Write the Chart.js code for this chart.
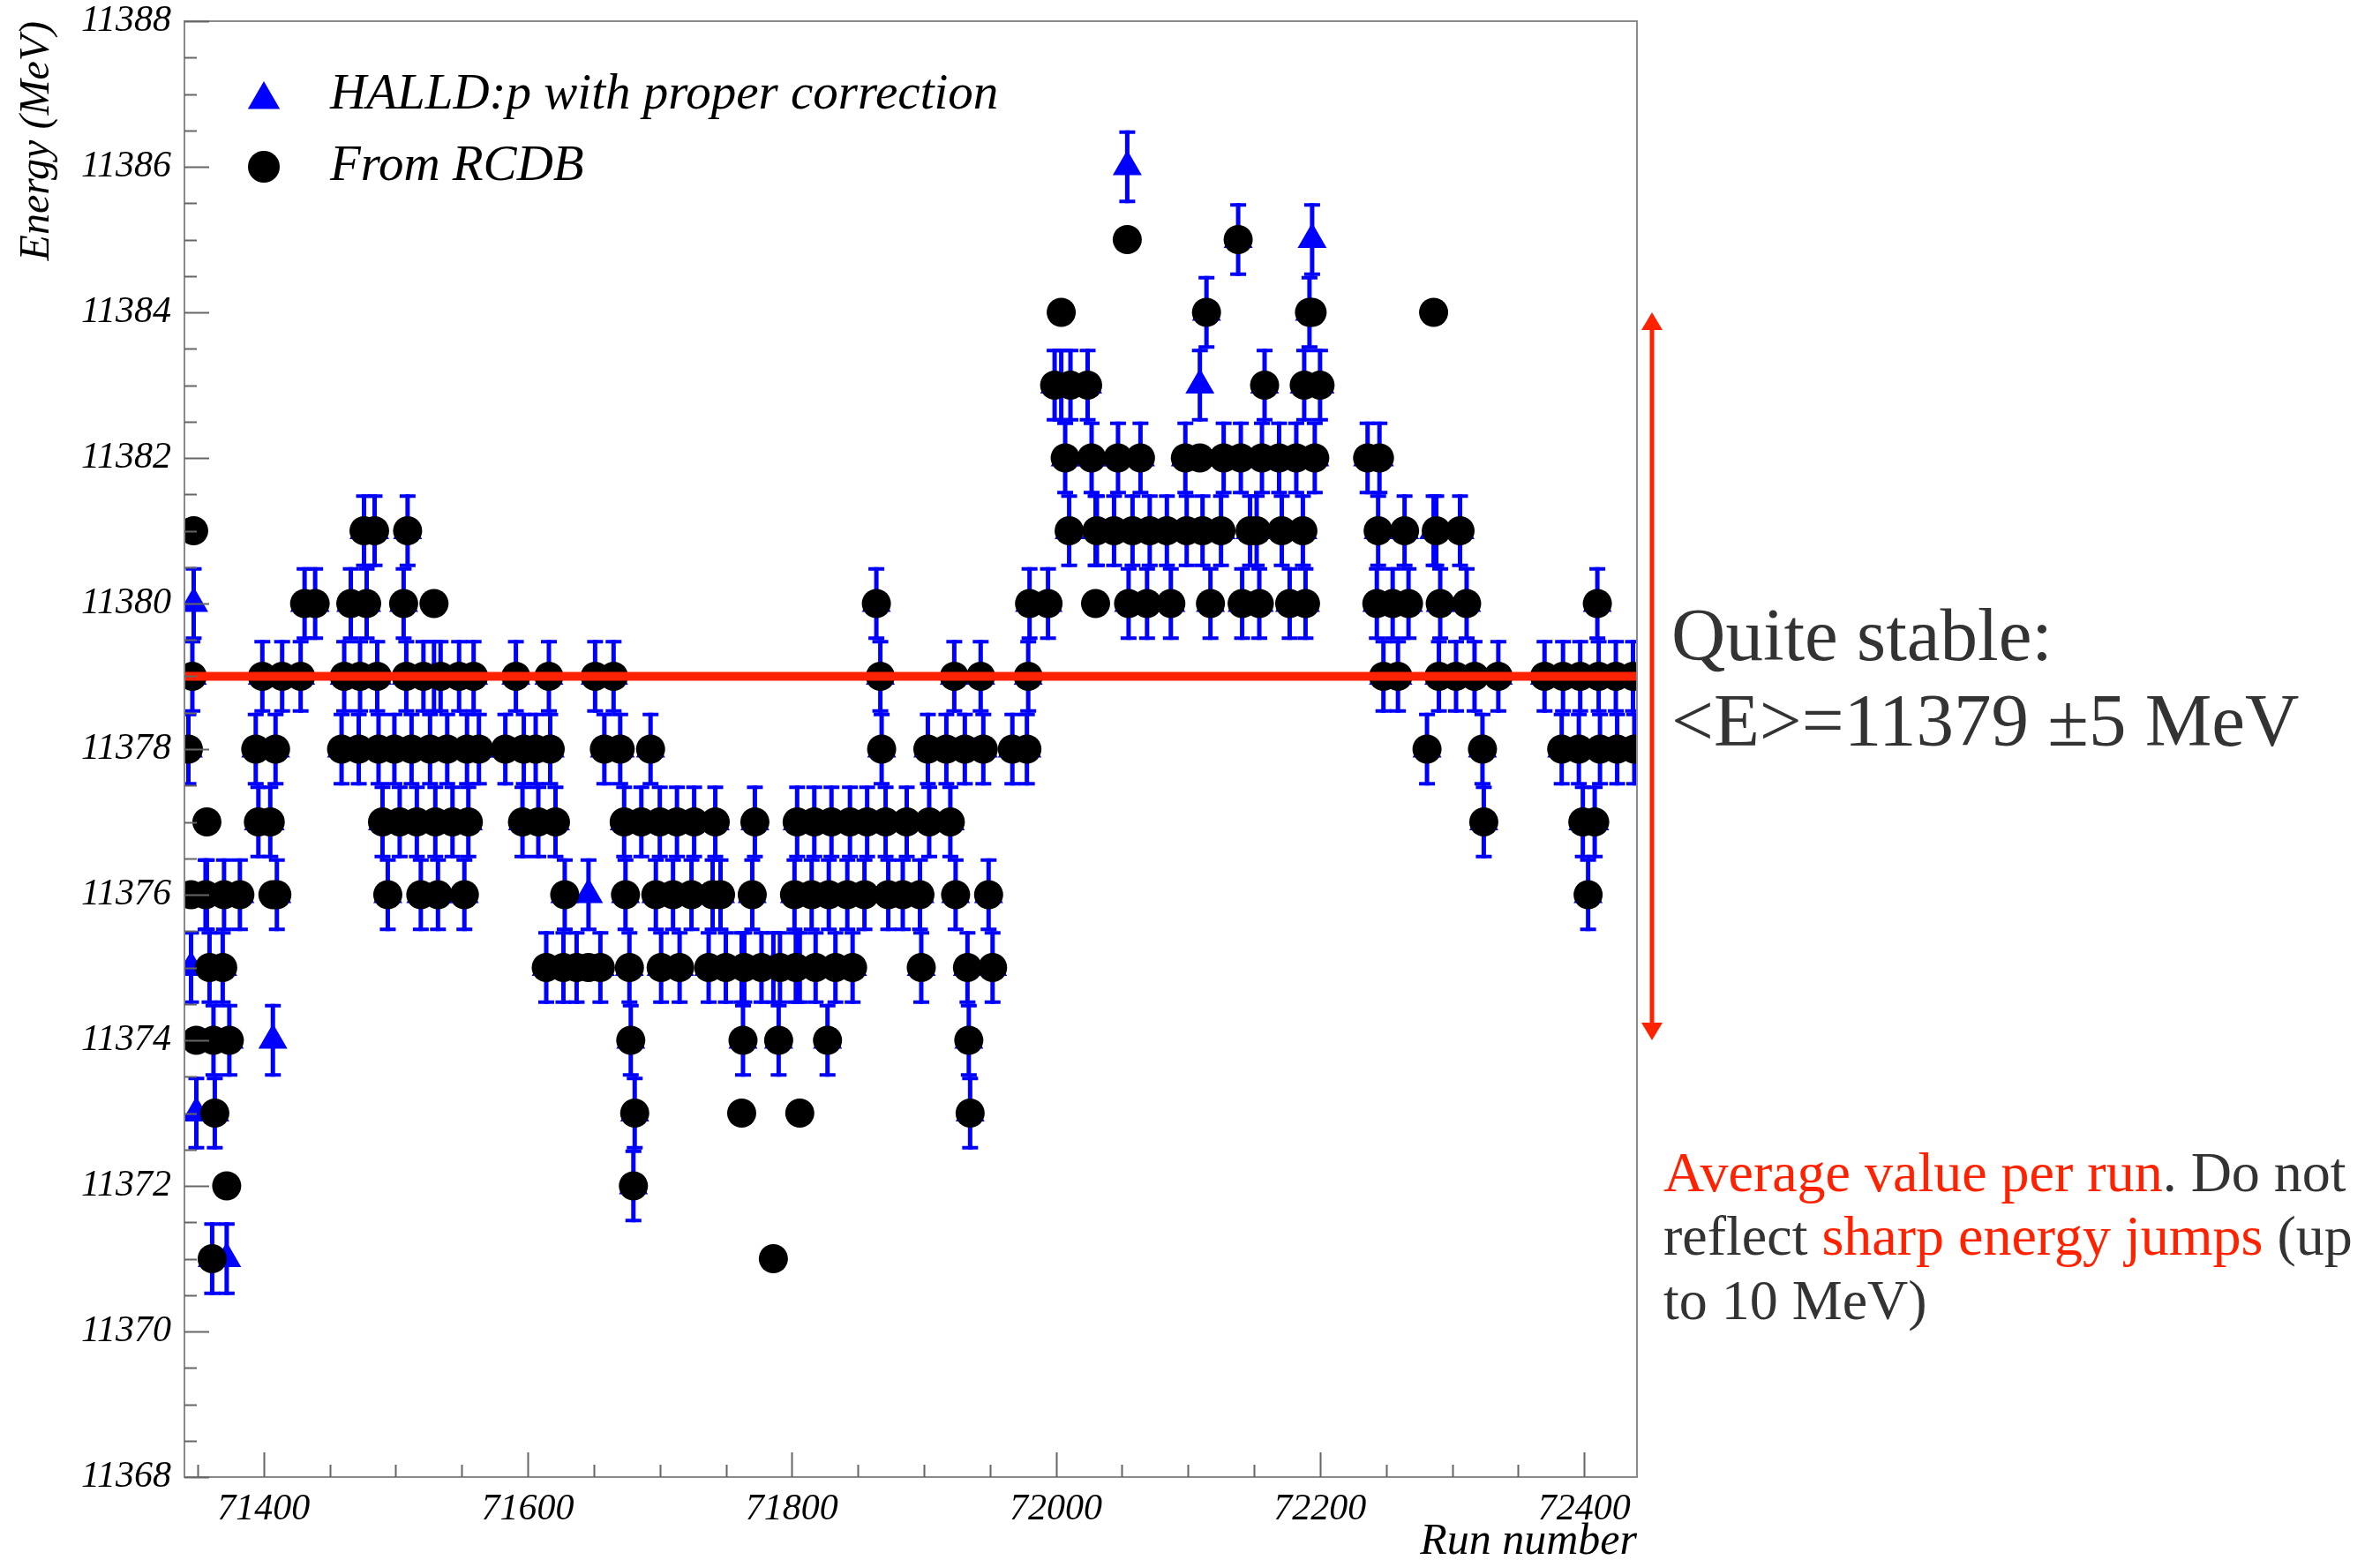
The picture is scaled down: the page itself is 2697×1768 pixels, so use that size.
<!DOCTYPE html>
<html>
<head>
<meta charset="utf-8">
<title>Beam energy per run</title>
<script src="https://cdn.jsdelivr.net/npm/chart.js@4.4.1/dist/chart.umd.min.js"></script>
<style>
html, body { margin: 0; padding: 0; background: #fff; }
#wrap { width: 2697px; height: 1768px; position: relative; }
</style>
</head>
<body>
<div id="wrap"><canvas id="mycanvas"></canvas></div>
<script>
// run number, energy from RCDB, energy from HALLD:p (MeV)
var runs = [
  71343, 71345, 71346, 71347, 71349, 71356, 71357, 71359, 71361, 71362, 71363, 71369, 71370, 71372, 71374, 71382,
  71394, 71396, 71399, 71405, 71407, 71409, 71410, 71414, 71428, 71431, 71439, 71459, 71461, 71466, 71472, 71473,
  71476, 71478, 71484, 71486, 71487, 71490, 71494, 71499, 71503, 71506, 71508, 71509, 71512, 71516, 71519, 71521,
  71526, 71529, 71530, 71532, 71534, 71539, 71543, 71548, 71552, 71554, 71555, 71559, 71563, 71583, 71591, 71596,
  71597, 71606, 71608, 71614, 71616, 71617, 71621, 71627, 71628, 71637, 71646, 71651, 71655, 71658, 71665, 71670,
  71673, 71674, 71677, 71678, 71680, 71681, 71686, 71693, 71697, 71700, 71701, 71710, 71713, 71715, 71724, 71726,
  71737, 71740, 71742, 71746, 71750, 71762, 71763, 71764, 71770, 71772, 71777, 71786, 71790, 71791, 71802, 71803,
  71804, 71806, 71815, 71817, 71818, 71827, 71828, 71830, 71833, 71842, 71844, 71846, 71855, 71857, 71864, 71867,
  71868, 71871, 71873, 71884, 71887, 71897, 71898, 71903, 71904, 71917, 71920, 71923, 71924, 71931, 71933, 71934,
  71935, 71943, 71945, 71949, 71952, 71967, 71978, 71979, 71980, 71994, 71999, 72004, 72007, 72010, 72011, 72024,
  72027, 72030, 72031, 72044, 72047, 72054, 72055, 72058, 72064, 72069, 72071, 72084, 72087, 72098, 72099, 72109,
  72111, 72114, 72117, 72125, 72127, 72138, 72140, 72141, 72147, 72152, 72154, 72156, 72158, 72169, 72171, 72177,
  72182, 72187, 72188, 72189, 72192, 72194, 72196, 72200, 72236, 72243, 72244, 72245, 72248, 72255, 72259, 72264,
  72267, 72281, 72286, 72288, 72290, 72291, 72303, 72306, 72311, 72317, 72323, 72324, 72335, 72370, 72383, 72384,
  72396, 72397, 72399, 72403, 72408, 72410, 72411, 72412, 72424, 72425, 72437, 72438
];
var rcdbEnergy = [
  11378, 11376, 11379, 11381, 11374, 11376, 11377, 11375, 11371, 11374, 11373, 11375, 11376, 11372, 11374, 11376,
  11378, 11377, 11379, 11377, 11376, 11378, 11376, 11379, 11379, 11380, 11380, 11378, 11379, 11380, 11378, 11379,
  11381, 11380, 11381, 11379, 11378, 11377, 11376, 11378, 11377, 11380, 11379, 11381, 11378, 11377, 11376, 11379,
  11378, 11380, 11377, 11376, 11379, 11378, 11377, 11379, 11376, 11378, 11377, 11379, 11378, 11378, 11379, 11377,
  11378, 11378, 11377, 11375, 11379, 11378, 11377, 11375, 11376, 11375, 11375, 11379, 11375, 11378, 11379, 11378,
  11377, 11376, 11375, 11374, 11372, 11373, 11377, 11378, 11376, 11377, 11375, 11376, 11377, 11375, 11376, 11377,
  11375, 11376, 11377, 11376, 11375, 11373, 11374, 11375, 11376, 11377, 11375, 11371, 11374, 11375, 11376, 11375,
  11377, 11373, 11376, 11377, 11375, 11374, 11376, 11377, 11375, 11376, 11377, 11375, 11376, 11377, 11380, 11379,
  11378, 11377, 11376, 11376, 11377, 11376, 11375, 11378, 11377, 11378, 11377, 11379, 11376, 11378, 11375, 11374,
  11373, 11379, 11378, 11376, 11375, 11378, 11378, 11379, 11380, 11380, 11383, 11384, 11382, 11381, 11383, 11383,
  11382, 11380, 11381, 11381, 11382, 11385, 11380, 11381, 11382, 11380, 11381, 11381, 11380, 11382, 11381, 11382,
  11381, 11384, 11380, 11381, 11382, 11385, 11382, 11380, 11381, 11381, 11380, 11382, 11383, 11382, 11381, 11380,
  11382, 11381, 11383, 11380, 11384, 11384, 11382, 11383, 11382, 11380, 11381, 11382, 11379, 11380, 11379, 11381,
  11380, 11378, 11384, 11381, 11379, 11380, 11379, 11381, 11380, 11379, 11378, 11377, 11379, 11379, 11378, 11379,
  11378, 11379, 11377, 11376, 11377, 11380, 11379, 11378, 11379, 11378, 11379, 11378
];
var halldEnergy = [
  11378, 11375, 11379, 11380, 11373, 11376, 11376, 11375, 11371, 11374, 11373, 11375, 11376, 11371, 11374, 11376,
  11378, 11377, 11379, 11377, 11374, 11378, 11376, 11379, 11379, 11380, 11380, 11378, 11379, 11380, 11378, 11379,
  11381, 11380, 11381, 11379, 11378, 11377, 11376, 11378, 11377, 11380, 11379, 11381, 11378, 11377, 11376, 11379,
  11378, 11379, 11377, 11376, 11379, 11378, 11377, 11379, 11376, 11378, 11377, 11379, 11378, 11378, 11379, 11377,
  11378, 11378, 11377, 11375, 11379, 11378, 11377, 11375, 11376, 11375, 11376, 11379, 11375, 11378, 11379, 11378,
  11377, 11376, 11375, 11374, 11372, 11373, 11377, 11378, 11376, 11377, 11375, 11376, 11377, 11375, 11376, 11377,
  11375, 11376, 11377, 11376, 11375, 11375, 11374, 11375, 11376, 11377, 11375, 11375, 11374, 11375, 11376, 11375,
  11377, 11375, 11376, 11377, 11375, 11374, 11376, 11377, 11375, 11376, 11377, 11375, 11376, 11377, 11380, 11379,
  11378, 11377, 11376, 11376, 11377, 11376, 11375, 11378, 11377, 11378, 11377, 11379, 11376, 11378, 11375, 11374,
  11373, 11379, 11378, 11376, 11375, 11378, 11378, 11379, 11380, 11380, 11383, 11383, 11382, 11381, 11383, 11383,
  11382, 11381, 11381, 11381, 11382, 11386, 11380, 11381, 11382, 11380, 11381, 11381, 11380, 11382, 11381, 11383,
  11381, 11384, 11380, 11381, 11382, 11385, 11382, 11380, 11381, 11381, 11380, 11382, 11383, 11382, 11381, 11380,
  11382, 11381, 11383, 11380, 11384, 11385, 11382, 11383, 11382, 11380, 11381, 11382, 11379, 11380, 11379, 11381,
  11380, 11378, 11381, 11381, 11379, 11380, 11379, 11381, 11380, 11379, 11378, 11377, 11379, 11379, 11378, 11379,
  11378, 11379, 11377, 11376, 11377, 11380, 11379, 11378, 11379, 11378, 11379, 11378
];
var halldError = 0.5;
var meanEnergy = 11379;
var spread = 5;
var xTicks = [71400, 71600, 71800, 72000, 72200, 72400];
var yTicks = [11368, 11370, 11372, 11374, 11376, 11378, 11380, 11382, 11384, 11386, 11388];

var RED = '#ff2200';
var DARK = '#333333';
var SERIF = "'Liberation Serif', 'Times New Roman', serif";

function toPoints(xs, ys) {
    var out = [];
    for (var i = 0; i < xs.length; i++) out.push({x: xs[i], y: ys[i]});
    return out;
}

function drawSegments(ctx, x, y, segs) {
    segs.forEach(function(s){
        ctx.fillStyle = s[1];
        ctx.fillText(s[0], x, y);
        x += ctx.measureText(s[0]).width;
    });
}

var extras = {
    id: 'extras',
    beforeDatasetsDraw: function(chart){
        // error bars of the HALLD:p points
        var ctx = chart.ctx, xs = chart.scales.x, ys = chart.scales.y, a = chart.chartArea;
        ctx.save();
        ctx.beginPath();
        ctx.rect(a.left, a.top, a.right - a.left, a.bottom - a.top);
        ctx.clip();
        ctx.strokeStyle = '#0000ff';
        for (var i = 0; i < runs.length; i++){
            var px = xs.getPixelForValue(runs[i]);
            var top = ys.getPixelForValue(halldEnergy[i] + halldError);
            var bot = ys.getPixelForValue(halldEnergy[i] - halldError);
            ctx.lineWidth = 5;
            ctx.beginPath();
            ctx.moveTo(px, top); ctx.lineTo(px, bot);
            ctx.stroke();
            ctx.lineWidth = 4;
            ctx.beginPath();
            ctx.moveTo(px - 9, top + 2); ctx.lineTo(px + 9, top + 2);
            ctx.moveTo(px - 9, bot - 2); ctx.lineTo(px + 9, bot - 2);
            ctx.stroke();
        }
        ctx.restore();
    },
    afterDraw: function(chart){
        var ctx = chart.ctx, xs = chart.scales.x, ys = chart.scales.y, a = chart.chartArea;
        var v, p;
        ctx.save();

        // frame
        ctx.strokeStyle = '#8a8a8a';
        ctx.lineWidth = 2;
        ctx.strokeRect(a.left, a.top, a.right - a.left, a.bottom - a.top);

        // inward ticks
        ctx.strokeStyle = '#666666';
        ctx.lineWidth = 2;
        ctx.beginPath();
        for (v = ys.min; v <= ys.max; v += 0.5){
            p = Math.round(ys.getPixelForValue(v)) + 0.5;
            var len = (yTicks.indexOf(v) >= 0) ? 28 : 14;
            ctx.moveTo(a.left, p); ctx.lineTo(a.left + len, p);
        }
        for (v = Math.ceil(xs.min / 50) * 50; v <= xs.max; v += 50){
            p = Math.round(xs.getPixelForValue(v)) + 0.5;
            var l2 = (xTicks.indexOf(v) >= 0) ? 28 : 14;
            ctx.moveTo(p, a.bottom); ctx.lineTo(p, a.bottom - l2);
        }
        ctx.stroke();

        // legend inside the frame
        var ds = chart.data.datasets;
        var lx = a.left + 90;
        ctx.fillStyle = '#0000ff';
        Chart.helpers.drawPoint(ctx, {pointStyle: 'triangle', radius: 21, borderWidth: 0}, lx, a.top + 89);
        ctx.fillStyle = '#000000';
        Chart.helpers.drawPoint(ctx, {pointStyle: 'circle', radius: 18, borderWidth: 0}, lx, a.top + 165);
        ctx.font = 'italic 57px ' + SERIF;
        ctx.textBaseline = 'middle';
        ctx.textAlign = 'left';
        ctx.fillText(ds[0].label, a.left + 165, a.top + 84);
        ctx.fillText(ds[1].label, a.left + 165, a.top + 165);

        // red double arrow for the spread
        var ax = a.right + 17;
        var y1 = ys.getPixelForValue(meanEnergy + spread);
        var y2 = ys.getPixelForValue(meanEnergy - spread);
        ctx.strokeStyle = RED;
        ctx.fillStyle = RED;
        ctx.lineWidth = 5;
        ctx.beginPath();
        ctx.moveTo(ax, y1 + 18); ctx.lineTo(ax, y2 - 18);
        ctx.stroke();
        ctx.beginPath();
        ctx.moveTo(ax, y1); ctx.lineTo(ax - 12, y1 + 20); ctx.lineTo(ax + 12, y1 + 20); ctx.closePath();
        ctx.moveTo(ax, y2); ctx.lineTo(ax - 12, y2 - 20); ctx.lineTo(ax + 12, y2 - 20); ctx.closePath();
        ctx.fill();

        // notes on the right
        var tx = a.right + 39;
        ctx.textBaseline = 'alphabetic';
        ctx.font = '85px ' + SERIF;
        ctx.fillStyle = DARK;
        ctx.fillText('Quite stable:', tx, 748);
        ctx.fillText('<E>=' + meanEnergy + ' \u00B1' + spread + ' MeV', tx, 845);

        ctx.font = '64px ' + SERIF;
        var bx = a.right + 30;
        drawSegments(ctx, bx, 1350, [['Average value per run', RED], ['. Do not', DARK]]);
        drawSegments(ctx, bx, 1422, [['reflect ', DARK], ['sharp energy jumps', RED], [' (up', DARK]]);
        drawSegments(ctx, bx, 1495, [['to 10 MeV)', DARK]]);

        ctx.restore();
    }
};

var chartdata = {
    datasets: [
        {
            label: 'HALLD:p with proper correction',
            data: toPoints(runs, halldEnergy),
            backgroundColor: '#0000ff',
            borderWidth: 0,
            pointStyle: 'triangle',
            pointRadius: 19,
            order: 2
        },
        {
            label: 'From RCDB',
            data: toPoints(runs, rcdbEnergy),
            backgroundColor: '#000000',
            borderWidth: 0,
            pointStyle: 'circle',
            pointRadius: 16.5,
            order: 1
        },
        {
            label: 'mean',
            type: 'line',
            data: [{x: 71340, y: meanEnergy}, {x: 72440, y: meanEnergy}],
            borderColor: RED,
            borderWidth: 10,
            pointRadius: 0,
            order: 0
        }
    ]
};

var ctx = document.getElementById('mycanvas');
var energyChart = new Chart(ctx, {
    type: 'scatter',
    data: chartdata,
    plugins: [extras],
    options: {
        responsive: true,
        maintainAspectRatio: false,
        animation: false,
        devicePixelRatio: 1,
        layout: { padding: { top: 24, right: 842, left: 0, bottom: 0 } },
        plugins: {
            legend: { display: false },
            tooltip: { enabled: false }
        },
        scales: {
            x: {
                type: 'linear',
                min: 71340,
                max: 72440,
                afterFit: function(scale){
                    scale.height = 94;
                    scale.paddingLeft = 0;
                    scale.paddingRight = 0;
                },
                afterBuildTicks: function(scale){ scale.ticks = xTicks.map(function(v){ return {value: v}; }); },
                grid: { display: false, drawTicks: false },
                border: { display: false },
                ticks: {
                    padding: 12,
                    color: '#000',
                    font: { family: SERIF, style: 'italic', size: 42 },
                    callback: function(v){ return String(v); }
                },
                title: {
                    display: true,
                    text: 'Run number',
                    align: 'end',
                    color: '#000',
                    padding: { top: 0, bottom: -10 },
                    font: { family: SERIF, style: 'italic', size: 50 }
                }
            },
            y: {
                min: 11368,
                max: 11388,
                afterFit: function(scale){
                    scale.width = 209;
                    scale.paddingTop = 0;
                    scale.paddingBottom = 0;
                },
                afterBuildTicks: function(scale){ scale.ticks = yTicks.map(function(v){ return {value: v}; }); },
                grid: { display: false, drawTicks: false },
                border: { display: false },
                ticks: {
                    padding: 15,
                    color: '#000',
                    font: { family: SERIF, style: 'italic', size: 42 },
                    callback: function(v){ return String(v); }
                },
                title: {
                    display: true,
                    text: 'Energy (MeV)',
                    align: 'end',
                    color: '#000',
                    padding: { top: 14, bottom: 0 },
                    font: { family: SERIF, style: 'italic', size: 48 }
                }
            }
        }
    }
});
</script>
</body>
</html>
